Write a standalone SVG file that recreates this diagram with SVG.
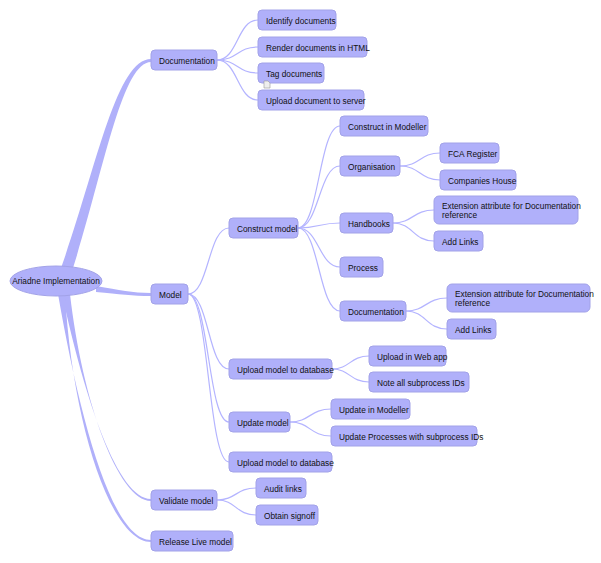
<svg xmlns="http://www.w3.org/2000/svg" width="601" height="563" viewBox="0 0 601 563">
<style>
.n rect{fill:#b0b0fa;stroke:#a2a2e8;stroke-width:1}
.n text,.r text{font-family:"Liberation Sans",Arial,sans-serif;font-size:8.3px;fill:#111}
.c path{fill:none;stroke:#b4b4ff;stroke-width:1.2}
.t path{fill:#b0b0fa;stroke:none}
</style>
<rect width="601" height="563" fill="#fff"/>
<g id="connectors">
<g class="t">
<path d="M61,268 C96,170 116,59 151,59 L151,62 C122,62 104,170 73,268 Z"/>
<path d="M96,286 C120,290 132,293 151,293 L151,296 C132,296 120,294 96,292 Z"/>
<path d="M62,294 C85,400 118,499 151,499 L151,501 C118,501 82,400 70,294 Z"/>
<path d="M58,294 C80,420 112,540 151,540 L151,542 C110,542 72,420 65,294 Z"/>
</g>
<g class="c">
<path d="M217,60 C238,60 237,20 258,20"/>
<path d="M217,60 C238,60 237,47 258,47"/>
<path d="M217,60 C238,60 237,73 258,73"/>
<path d="M217,60 C238,60 237,100 258,100"/>
<path d="M188,294 C209,294 208,228 229,228"/>
<path d="M188,294 C209,294 208,369 229,369"/>
<path d="M188,294 C209,294 208,422 229,422"/>
<path d="M188,294 C209,294 208,462 229,462"/>
<path d="M298,228 C319,228 319,126 340,126"/>
<path d="M298,228 C319,228 319,166 340,166"/>
<path d="M298,228 C319,228 319,223 340,223"/>
<path d="M298,228 C319,228 319,267 340,267"/>
<path d="M298,228 C319,228 319,311 340,311"/>
<path d="M400,166 C420,166 420,153 440,153"/>
<path d="M400,166 C420,166 420,180 440,180"/>
<path d="M393,223 C413,223 413,210 434,210"/>
<path d="M393,223 C413,223 413,241 434,241"/>
<path d="M406,311 C426,311 426,298 447,298"/>
<path d="M406,311 C426,311 426,329 447,329"/>
<path d="M332,369 C350,369 350,356 369,356"/>
<path d="M332,369 C350,369 350,382 369,382"/>
<path d="M290,422 C310,422 310,409 331,409"/>
<path d="M290,422 C310,422 310,436 331,436"/>
<path d="M217,500 C236,500 236,488 256,488"/>
<path d="M217,500 C236,500 236,515 256,515"/>
</g>
</g>
<g id="root" class="r"><ellipse cx="56" cy="281" rx="46" ry="15" fill="#b0b0fa" stroke="#a2a2e8"/><text x="56" y="284" text-anchor="middle">Ariadne Implementation</text></g>
<g id="documentation" class="n"><rect x="151" y="50" width="66" height="20" rx="4"/><text x="159" y="64">Documentation</text></g>
<g id="identify" class="n"><rect x="258" y="10" width="78" height="20" rx="4"/><text x="266" y="24">Identify documents</text></g>
<g id="render" class="n"><rect x="258" y="37" width="109" height="20" rx="4"/><text x="266" y="51">Render documents in HTML</text></g>
<g id="tag" class="n"><rect x="258" y="63" width="66" height="20" rx="4"/><text x="266" y="77">Tag documents</text><path d="M264,81 h4 l2,2 v5 h-6 Z" fill="#eee" stroke="#999" stroke-width="0.6"/></g>
<g id="upload-doc" class="n"><rect x="258" y="90" width="106" height="20" rx="4"/><text x="266" y="104">Upload document to server</text></g>
<g id="model" class="n"><rect x="151" y="284" width="37" height="20" rx="4"/><text x="159" y="298">Model</text></g>
<g id="construct-model" class="n"><rect x="229" y="218" width="69" height="20" rx="4"/><text x="237" y="232">Construct model</text></g>
<g id="construct-modeller" class="n"><rect x="340" y="116" width="88" height="20" rx="4"/><text x="348" y="130">Construct in Modeller</text></g>
<g id="organisation" class="n"><rect x="340" y="156" width="60" height="20" rx="4"/><text x="348" y="170">Organisation</text></g>
<g id="fca" class="n"><rect x="440" y="143" width="59" height="20" rx="4"/><text x="448" y="157">FCA Register</text></g>
<g id="companies" class="n"><rect x="440" y="170" width="76" height="20" rx="4"/><text x="448" y="184">Companies House</text></g>
<g id="handbooks" class="n"><rect x="340" y="213" width="53" height="20" rx="4"/><text x="348" y="227">Handbooks</text></g>
<g id="ext1" class="n"><rect x="434" y="196" width="144" height="28" rx="5"/><text x="442" y="209">Extension attribute for Documentation</text><text x="442" y="218">reference</text></g>
<g id="links1" class="n"><rect x="434" y="231" width="49" height="20" rx="4"/><text x="442" y="245">Add Links</text></g>
<g id="process" class="n"><rect x="340" y="257" width="43" height="20" rx="4"/><text x="348" y="271">Process</text></g>
<g id="documentation2" class="n"><rect x="340" y="301" width="66" height="20" rx="4"/><text x="348" y="315">Documentation</text></g>
<g id="ext2" class="n"><rect x="447" y="284" width="143" height="28" rx="5"/><text x="455" y="297">Extension attribute for Documentation</text><text x="455" y="306">reference</text></g>
<g id="links2" class="n"><rect x="447" y="319" width="49" height="20" rx="4"/><text x="455" y="333">Add Links</text></g>
<g id="upload-model" class="n"><rect x="229" y="359" width="103" height="20" rx="4"/><text x="237" y="373">Upload model to database</text></g>
<g id="webapp" class="n"><rect x="369" y="346" width="77" height="20" rx="4"/><text x="377" y="360">Upload in Web app</text></g>
<g id="note" class="n"><rect x="369" y="372" width="100" height="20" rx="4"/><text x="377" y="386">Note all subprocess IDs</text></g>
<g id="update-model" class="n"><rect x="229" y="412" width="61" height="20" rx="4"/><text x="237" y="426">Update model</text></g>
<g id="update-modeller" class="n"><rect x="331" y="399" width="79" height="20" rx="4"/><text x="339" y="413">Update in Modeller</text></g>
<g id="update-processes" class="n"><rect x="331" y="426" width="146" height="20" rx="4"/><text x="339" y="440">Update Processes with subprocess IDs</text></g>
<g id="upload-model2" class="n"><rect x="229" y="452" width="103" height="20" rx="4"/><text x="237" y="466">Upload model to database</text></g>
<g id="validate" class="n"><rect x="151" y="490" width="66" height="20" rx="4"/><text x="159" y="504">Validate model</text></g>
<g id="audit" class="n"><rect x="256" y="478" width="50" height="20" rx="4"/><text x="264" y="492">Audit links</text></g>
<g id="signoff" class="n"><rect x="256" y="505" width="62" height="20" rx="4"/><text x="264" y="519">Obtain signoff</text></g>
<g id="release" class="n"><rect x="151" y="531" width="82" height="20" rx="4"/><text x="159" y="545">Release Live model</text></g>
</svg>
